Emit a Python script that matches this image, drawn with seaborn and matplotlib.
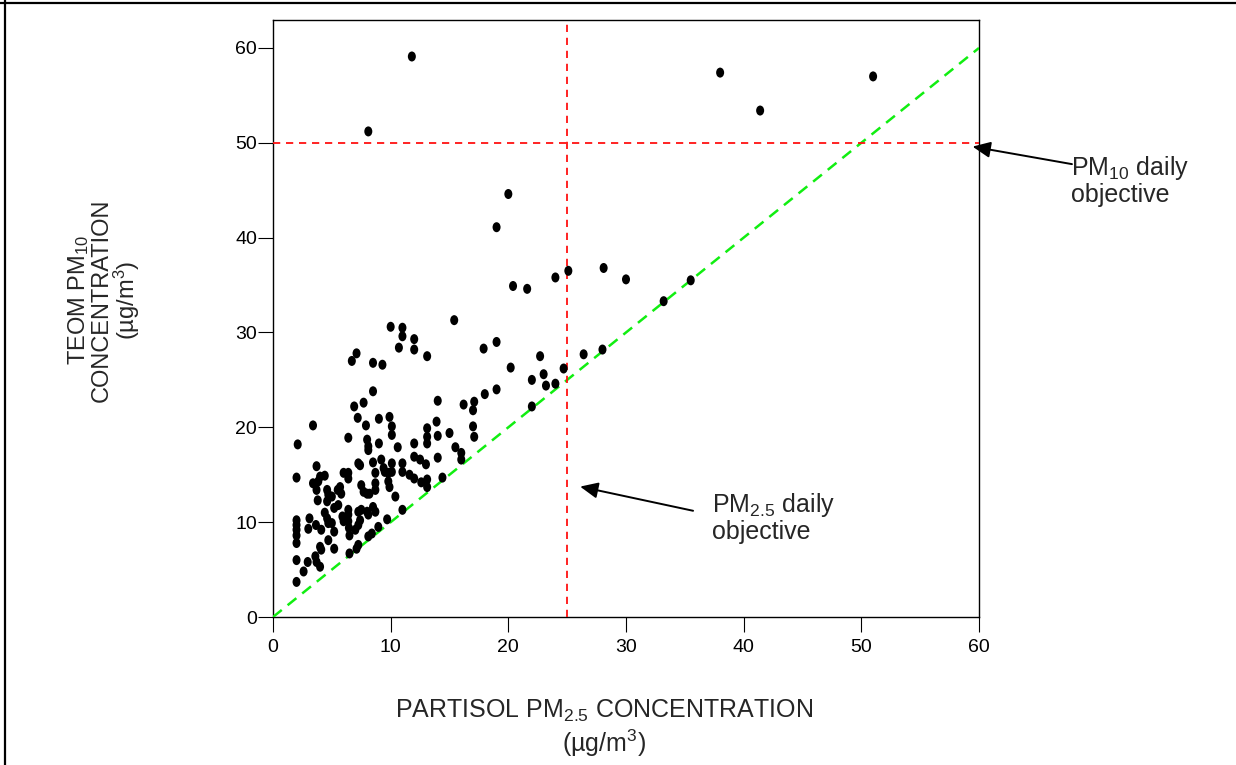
import numpy as np
import pandas as pd
import matplotlib
matplotlib.use("Agg")
import matplotlib.pyplot as plt
import seaborn as sns
from matplotlib.path import Path
from matplotlib.markers import MarkerStyle
from matplotlib.transforms import Affine2D
from matplotlib.lines import Line2D

# ---------------- data ----------------
partisol_pm25 = [
    11.8, 8.1, 38.0, 41.4, 51.0,
    20.0, 19.0, 20.4, 21.6, 24.0, 25.1, 28.1, 30.0, 35.5, 33.2,
    28.0, 26.4, 22.7, 20.2, 24.7, 23.0, 22.0, 23.2, 24.0, 22.0,
    15.4, 17.9, 19.0, 18.0, 19.0, 14.0, 16.2, 17.1, 17.0,
    10.0, 11.0, 11.0, 12.0, 10.7, 12.0, 13.1,
    7.1, 6.7, 8.5, 9.3, 8.5, 7.7, 6.9, 7.2, 9.0, 9.9, 7.9, 3.4, 10.1, 10.1,
    6.4, 8.0, 9.0, 2.1, 8.1, 10.6, 8.1,
    13.9, 13.1, 13.1, 13.1, 14.0, 15.0, 17.0, 17.1, 12.0, 15.5,
    10.1, 10.1, 11.0, 11.0, 12.0, 12.5, 13.0, 14.0, 16.0, 16.0,
    11.6, 12.0, 12.6, 13.1, 13.1, 14.4, 10.4, 11.0,
    3.7, 2.0, 3.4, 3.7, 4.0, 4.4, 3.85, 4.6, 4.7, 5.0, 5.5, 5.7, 6.0,
    3.8, 4.6, 5.2, 4.4, 4.6, 5.9,
    2.0, 2.0, 2.0, 2.0, 2.0, 3.1, 3.0, 3.65, 4.1, 4.7, 5.0, 5.2, 4.7,
    4.0, 4.1, 5.2, 2.0, 2.95, 3.6, 3.7, 4.0, 2.6, 2.0,
    7.25, 7.4, 8.5, 9.2, 9.4, 9.5, 9.8, 6.4, 6.4, 8.7, 7.5, 8.7, 9.8, 9.9,
    7.7, 8.0, 8.2, 8.7, 5.8, 5.55,
    6.4, 6.4, 6.4, 6.45, 6.5, 6.0, 7.25, 7.5, 8.0, 8.1, 7.4, 7.25, 7.0,
    8.5, 8.7, 9.7, 8.4, 8.1, 8.95, 7.25, 7.1, 6.5,
]
teom_pm10 = [
    59.1, 51.2, 57.4, 53.4, 57.0,
    44.6, 41.1, 34.9, 34.6, 35.8, 36.5, 36.8, 35.6, 35.5, 33.3,
    28.2, 27.7, 27.5, 26.3, 26.2, 25.6, 25.0, 24.4, 24.6, 22.2,
    31.3, 28.3, 29.0, 23.5, 24.0, 22.8, 22.4, 22.7, 21.8,
    30.6, 30.5, 29.6, 29.3, 28.4, 28.2, 27.5,
    27.8, 27.0, 26.8, 26.6, 23.8, 22.6, 22.2, 21.0, 20.9, 21.1, 20.2, 20.2, 20.1, 19.2,
    18.9, 18.7, 18.3, 18.2, 17.6, 17.9, 18.0,
    20.6, 19.9, 19.0, 18.3, 19.1, 19.4, 20.1, 19.0, 18.3, 17.9,
    16.2, 15.3, 16.2, 15.3, 16.9, 16.6, 16.1, 16.8, 17.3, 16.6,
    15.0, 14.6, 14.2, 14.5, 13.7, 14.7, 12.7, 11.3,
    15.9, 14.7, 14.1, 13.4, 14.8, 14.9, 14.3, 13.4, 12.9, 12.7, 13.4, 13.7, 15.2,
    12.3, 12.2, 11.5, 11.0, 10.4, 10.6,
    10.2, 9.7, 9.2, 8.6, 7.8, 10.4, 9.3, 9.7, 9.2, 9.9, 9.9, 9.0, 8.1,
    7.4, 7.1, 7.2, 6.0, 5.8, 6.4, 5.8, 5.3, 4.8, 3.7,
    16.2, 16.0, 16.3, 16.6, 15.7, 15.3, 15.2, 15.2, 14.6, 15.2, 13.9, 14.1, 14.3, 13.7,
    13.2, 13.0, 13.0, 13.4, 13.0, 11.8,
    11.3, 10.8, 10.1, 9.4, 8.6, 10.1, 11.1, 11.3, 11.1, 10.8, 10.2, 9.7, 9.2,
    11.6, 11.1, 10.3, 8.8, 8.5, 9.5, 7.6, 7.2, 6.7,
]
x_ticks = [0, 10, 20, 30, 40, 50, 60]
y_ticks = [0, 10, 20, 30, 40, 50, 60]
pm25_objective = 25
pm10_objective = 50

# ---------------- style ----------------
sns.set_style("ticks")
plt.rcParams["font.family"] = ["Liberation Sans", "DejaVu Sans"]
plt.rcParams["mathtext.fontset"] = "custom"
plt.rcParams["mathtext.rm"] = "Liberation Sans"
plt.rcParams["mathtext.it"] = "Liberation Sans:italic"
plt.rcParams["mathtext.bf"] = "Liberation Sans:bold"

W, H = 1236, 765
fig = plt.figure(figsize=(W / 100, H / 100), dpi=100)
fig.patch.set_facecolor("white")

ax = fig.add_axes([273 / W, 1 - 617 / H, 706 / W, (617 - 19.5) / H])

df = pd.DataFrame({"PARTISOL PM2.5": partisol_pm25, "TEOM PM10": teom_pm10})
ellipse = Path.unit_circle().transformed(Affine2D().scale(0.8, 1.0))
sns.scatterplot(data=df, x="PARTISOL PM2.5", y="TEOM PM10", ax=ax,
                marker=MarkerStyle(ellipse), s=52, color="black",
                edgecolor="none", linewidth=0, zorder=4, legend=False)

# 1:1 line and objectives
ax.axline((0, 0), slope=1, color="#11ee11", lw=1.8, ls=(0, (4.5, 3.0)), zorder=3)
ax.axvline(pm25_objective, color="#ff1111", lw=1.3, ls=(0, (4.0, 3.2)), zorder=3)
ax.axhline(pm10_objective, color="#ff1111", lw=1.3, ls=(0, (4.0, 3.2)), zorder=3)

ax.set_xlim(0, 60)
ax.set_ylim(0, 63)
ax.set_xticks(x_ticks)
ax.set_yticks(y_ticks)
ax.set_xlabel("")
ax.set_ylabel("")
for s in ax.spines.values():
    s.set_visible(True)
    s.set_linewidth(1.0)
    s.set_color("black")
ax.tick_params(axis="both", direction="out", length=10.5, width=0.8,
               color="black", labelsize=14, labelcolor="black")
ax.tick_params(axis="y", pad=1)
ax.tick_params(axis="x", pad=5)
ax.grid(False)

# annotations (arrows)
arrow_kw = dict(arrowstyle="-|>,head_length=0.6,head_width=0.27",
                color="black", lw=1.4, mutation_scale=18, shrinkA=0, shrinkB=0)
ax.annotate("", xy=(59.45, 49.6), xytext=(67.9, 47.75), xycoords="data",
            textcoords="data", arrowprops=arrow_kw, annotation_clip=False)
ax.annotate("", xy=(26.1, 13.75), xytext=(35.7, 11.2), xycoords="data",
            textcoords="data", arrowprops=arrow_kw, annotation_clip=False)

fig.text(1071 / W, 1 - 154 / H, "PM$_{10}$ daily\nobjective", ha="left", va="top",
         fontsize=18, linespacing=1.05)
fig.text(712 / W, 1 - 491 / H, "PM$_{2.5}$ daily\nobjective", ha="left", va="top",
         fontsize=18, linespacing=1.05)

# axis titles
fig.text(104 / W, 1 - 300 / H, "TEOM PM$_{10}$\nCONCENTRATION\n(\u00b5g/m$^{3}$)",
         rotation=90, ha="center", va="center", multialignment="center",
         fontsize=17, linespacing=0.95)
fig.text(604 / W, 1 - 718 / H, "PARTISOL PM$_{2.5}$ CONCENTRATION",
         ha="center", va="baseline", fontsize=18)
fig.text(604 / W, 1 - 752 / H, "(\u00b5g/m$^{3}$)",
         ha="center", va="baseline", fontsize=18)

# page frame lines (left and top)
fig.add_artist(Line2D([5 / W, 5 / W], [0, 1], transform=fig.transFigure,
                      color="black", lw=1.6))
fig.add_artist(Line2D([0, 1], [1 - 3 / H, 1 - 3 / H], transform=fig.transFigure,
                      color="black", lw=1.6))

fig.savefig("out.png", dpi=100, facecolor="white")
